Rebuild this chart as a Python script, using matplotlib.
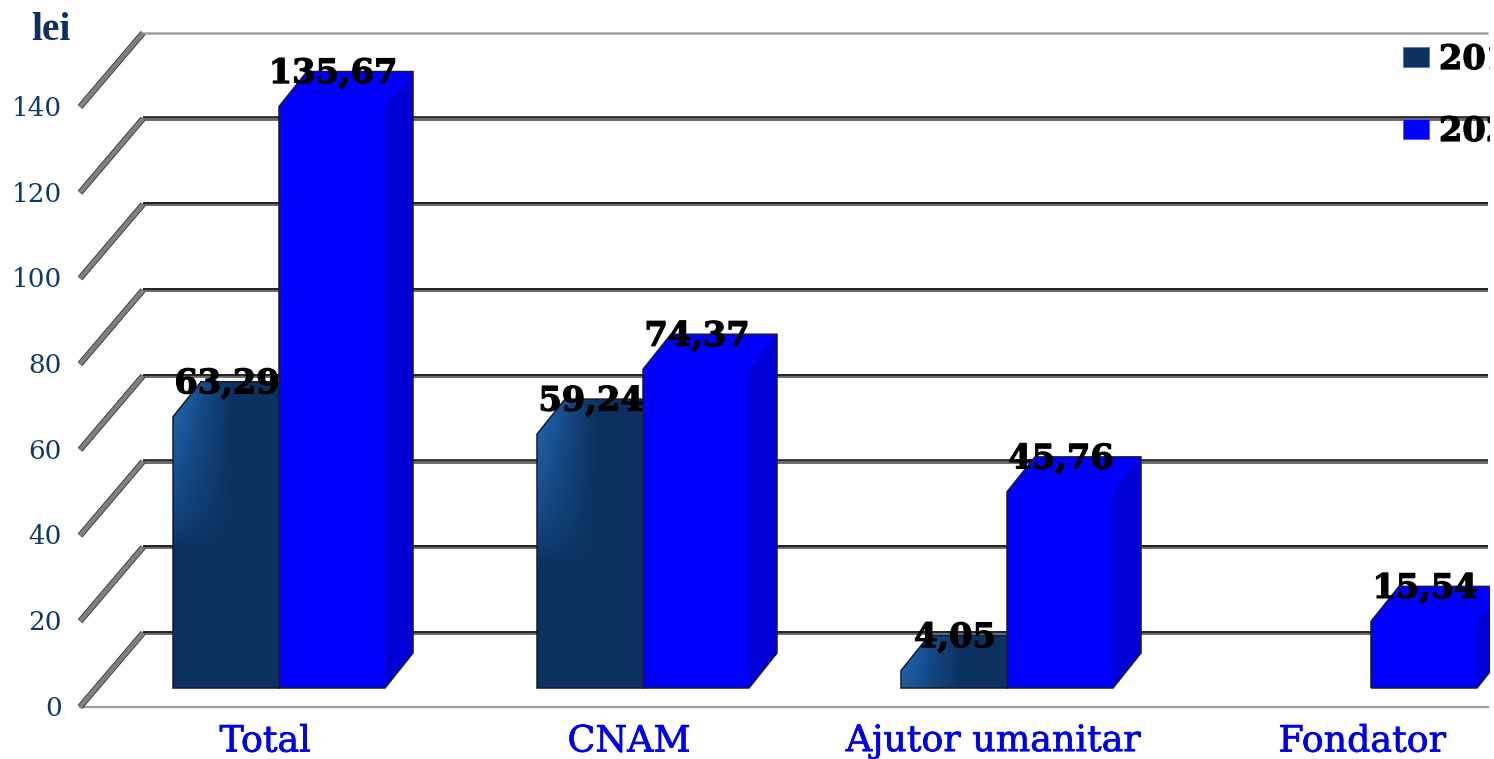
import numpy as np
import matplotlib
matplotlib.use("Agg")
import matplotlib.pyplot as plt
import matplotlib.patheffects as pe
from matplotlib.patches import Polygon, Patch

categories = ["Total", "CNAM", "Ajutor umanitar", "Fondator"]
series_names = ["2019", "2020"]
values_2019 = [63.29, 59.24, 4.05, None]
values_2020 = [135.67, 74.37, 45.76, 15.54]
value_labels_2019 = ["63,29", "59,24", "4,05", None]
value_labels_2020 = ["135,67", "74,37", "45,76", "15,54"]
y_ticks = [0, 20, 40, 60, 80, 100, 120, 140]
axis_title = "lei"

W, H = 1494, 759
PXX = 1 / 364.0        # category units per pixel
PXY = 1 / 4.286        # value units per pixel
NAVY, BLUE, SIDE = "#0b3160", "#0000ff", "#0000d6"
LIGHT = (0.14, 0.42, 0.72)
TICKC, CATC = "#0f3a68", "#0000e6"

fig = plt.figure(figsize=(W / 100, H / 100), dpi=100, facecolor="white")
ax = fig.add_axes([0, 0, 1490 / W, 1])
ax.set_xlim(-279 * PXX, (1490 - 279) * PXX)
ax.set_ylim(-71 * PXY, 688 * PXY)
ax.axis("off")

bar_w = 106 * PXX
dep_x, dep_y = 28 * PXX, 35 * PXY
wall_x, wall_y = 63 * PXX, 74 * PXY      # floor depth
front_y = -19 * PXY                      # floor front edge
x_left = (80 - 279) * PXX
x_right = (1488 - 279) * PXX

# floor front edge, back wall gridlines, slanted left wall ticks
ax.plot([x_left, x_right], [front_y, front_y], color="#9a9a9a", lw=1.6, zorder=1)
for v in y_ticks:
    yb = v + front_y + wall_y
    top = v == y_ticks[-1]
    if not top:
        ax.plot([x_left + wall_x, x_right], [yb, yb], color="#686868", lw=2.8,
                solid_capstyle="butt", zorder=1)
        ax.plot([x_left + wall_x, x_right], [yb + 0.3, yb + 0.3], color="#111111", lw=1.1,
                solid_capstyle="butt", zorder=1)
    else:
        ax.plot([x_left + wall_x, x_right], [yb, yb], color="#a0a0a0", lw=1.8,
                solid_capstyle="butt", zorder=1)
    ax.plot([x_left, x_left + wall_x], [v + front_y, yb], color="#333333", lw=4.4,
            solid_capstyle="butt", zorder=2)
    ax.plot([x_left, x_left + wall_x], [v + front_y, yb], color="#808080", lw=3.2,
            solid_capstyle="butt", zorder=2)
    ax.annotate(str(v), (x_left, v + front_y), xytext=(-13, -1), textcoords="offset points",
                ha="right", va="center", family="DejaVu Serif", fontsize=18.8, color=TICKC)

ax.annotate(axis_title, (0, 1), xycoords="axes fraction", xytext=(51 * .72, -30 * .72),
            textcoords="offset points", ha="center", va="center",
            family="Liberation Serif", weight="bold", fontsize=28.5, color="#0f2f63")


def bar3d(x0, v, face, side, z):
    x1 = x0 + bar_w
    hexa = [(x0, 0), (x1, 0), (x1 + dep_x, dep_y), (x1 + dep_x, v + dep_y), (x0 + dep_x, v + dep_y), (x0, v)]
    ax.add_patch(Polygon(hexa, fc=face, ec="none", zorder=z))
    ax.add_patch(Polygon([(x1, 0), (x1 + dep_x, dep_y), (x1 + dep_x, v + dep_y), (x1, v)],
                         fc=side, ec="none", zorder=z + 0.1))
    outline = Polygon(hexa, fc="none", ec="#1a1a33", lw=1.1, joinstyle="miter", zorder=z + 0.3)
    ax.add_patch(outline)
    return outline


for i, (a, b) in enumerate(zip(values_2019, values_2020)):
    if a is not None:
        sil = bar3d(i - bar_w, a, NAVY, NAVY, 3)
        # soft highlight in the upper-left corner of the navy bar
        u, t = np.meshgrid(np.linspace(0, 1, 80), np.linspace(0, 1, 120))
        alpha = np.clip(1 - u, 0, 1) ** 1.1 * np.clip(1 - t, 0, 1) ** 0.7
        rgba = np.zeros(u.shape + (4,))
        rgba[..., :3] = LIGHT
        rgba[..., 3] = alpha
        top_y = a + dep_y
        im = ax.imshow(rgba, extent=(i - bar_w, i - bar_w + 62 * PXX, top_y - 165 * PXY, top_y),
                       origin="upper", aspect="auto", zorder=3.2, interpolation="bilinear")
        im.set_clip_path(sil)
    bar3d(i, b, BLUE, SIDE, 4)

ax.set_xlim(-279 * PXX, (1490 - 279) * PXX)
ax.set_ylim(-71 * PXY, 688 * PXY)

heavy = [pe.withStroke(linewidth=0.9, foreground="black")]

# data labels
for i, (a, la, b, lb) in enumerate(zip(values_2019, value_labels_2019, values_2020, value_labels_2020)):
    for off, v, lab in ((-bar_w, a, la), (0, b, lb)):
        if v is None:
            continue
        ax.annotate(lab, (i + off + bar_w / 2 + 1 * PXX, v), xytext=(0, 33 * .72),
                    textcoords="offset points", ha="center", va="center", family="DejaVu Serif",
                    weight="bold", fontsize=24.2, color="black", zorder=6, path_effects=heavy)

# category labels
for i, c in enumerate(categories):
    ax.annotate(c, (i, -71 * PXY), xytext=((-14 if i < 3 else -9) * .72, 16 * .72 + 1),
                textcoords="offset points", ha="center", va="center", family="DejaVu Serif",
                fontsize=26.2, color=CATC, annotation_clip=False,
                path_effects=[pe.withStroke(linewidth=0.5, foreground=CATC)])

# legend, clipped at the picture's right side as in the source
handles = [Patch(fc=NAVY, ec="#5577aa", lw=0.6, label=series_names[0]),
           Patch(fc=BLUE, ec="#5555ff", lw=0.6, label=series_names[1])]
leg = ax.legend(handles=handles, loc="upper left", bbox_to_anchor=(1403 / 1490, 1 - 43 / H),
                frameon=False, borderpad=0, borderaxespad=0, handlelength=0.76, handleheight=0.55,
                handletextpad=0.31, labelspacing=1.16,
                prop={"family": "DejaVu Serif", "weight": "bold", "size": 24.2})
leg.set_zorder(7)
for t in leg.get_texts():
    t.set_clip_on(True)
    t.set_clip_box(ax.bbox)
    t.set_path_effects(heavy)

fig.savefig("out.png", dpi=100, facecolor="white")
